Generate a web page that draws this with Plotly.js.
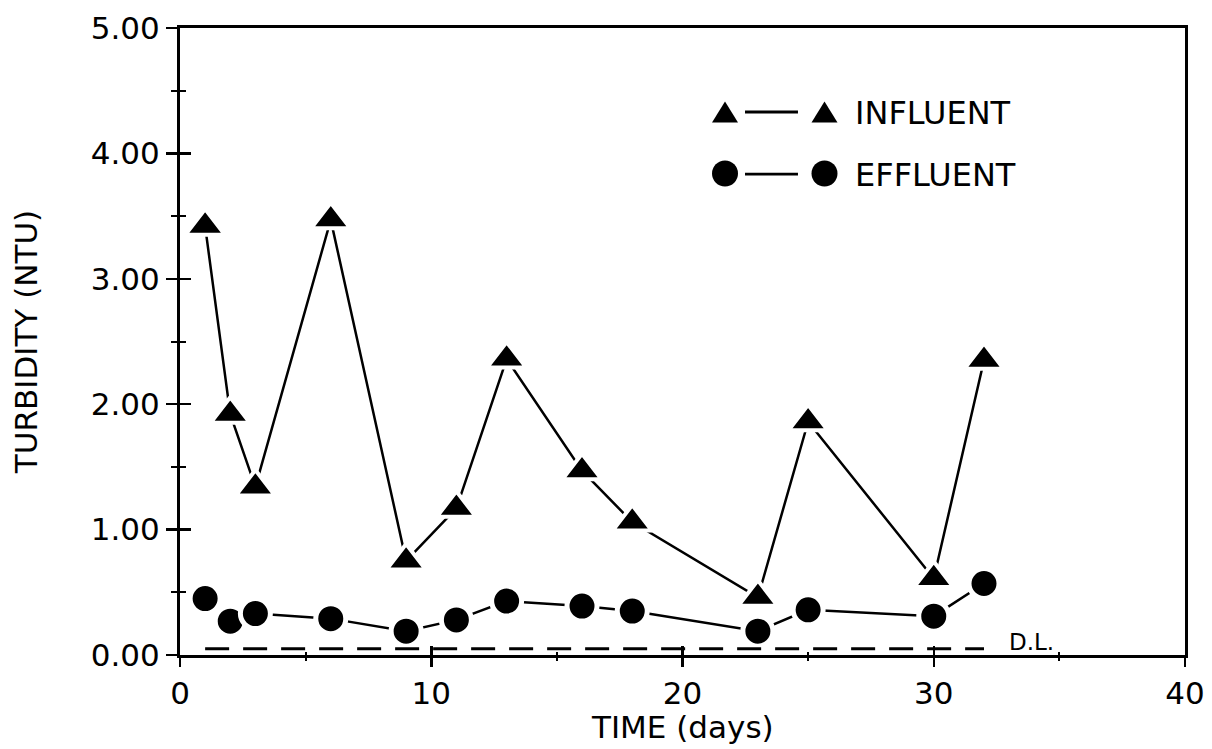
<!DOCTYPE html>
<html>
<head>
<meta charset="utf-8">
<script src="https://cdn.plot.ly/plotly-3.0.1.min.js"></script>
<style>html,body{margin:0;padding:0;background:#fff;}#chart{width:1212px;height:749px;}</style>
</head>
<body>
<div id="chart"></div>
<script>
// Data
const influentDays = [1, 2, 3, 6, 9, 11, 13, 16, 18, 23, 25, 30, 32];
const influentNTU  = [3.42, 1.92, 1.34, 3.47, 0.75, 1.17, 2.36, 1.47, 1.06, 0.46, 1.86, 0.61, 2.35];
const effluentDays = [1, 2, 3, 6, 9, 11, 13, 16, 18, 23, 25, 30, 32];
const effluentNTU  = [0.45, 0.27, 0.33, 0.29, 0.19, 0.28, 0.43, 0.39, 0.35, 0.19, 0.36, 0.31, 0.57];
const detectionLimitDays = [1, 32];
const detectionLimitNTU  = [0.05, 0.05];
const xTickVals = [0, 10, 20, 30, 40];
const xTickText = ['0', '10', '20', '30', '40'];
const yTickVals = [0, 1, 2, 3, 4, 5];
const yTickText = ['0.00', '1.00', '2.00', '3.00', '4.00', '5.00'];
const seriesNames = ['INFLUENT', 'EFFLUENT'];
const xTitle = 'TIME (days)';
const yTitle = 'TURBIDITY (NTU)';

const FONT = 'DejaVu Sans';
const traces = [
  {
    x: detectionLimitDays, y: detectionLimitNTU, mode: 'lines', xaxis: 'x2', yaxis: 'y2',
    line: {color: '#000', width: 3, dash: '24px,14px'}, showlegend: false, hoverinfo: 'skip'
  },
  {
    name: seriesNames[0], x: influentDays, y: influentNTU, mode: 'lines+markers',
    line: {color: '#000', width: 2.5},
    marker: {symbol: 'triangle-up', size: 34, color: '#000', line: {color: '#fff', width: 4}},
    showlegend: false
  },
  {
    name: seriesNames[1], x: effluentDays, y: effluentNTU, mode: 'lines+markers',
    line: {color: '#000', width: 2.5},
    marker: {symbol: 'circle', size: 30, color: '#000', line: {color: '#fff', width: 5}},
    showlegend: false
  }
];

const commonAxis = {
  showgrid: false, zeroline: false, linecolor: '#000', linewidth: 3,
  tickcolor: '#000', tickwidth: 2.5, tickfont: {family: FONT, size: 31, color: '#000'}
};

const layout = {
  width: 1212, height: 749,
  margin: {l: 180, r: 27, t: 28, b: 94},
  paper_bgcolor: '#fff', plot_bgcolor: '#fff',
  showlegend: false,
  xaxis: Object.assign({}, commonAxis, {
    range: [0, 40], tickmode: 'array', tickvals: xTickVals, ticktext: xTickText,
    ticks: 'outside', ticklen: 9, mirror: true,
    minor: {dtick: 5, ticks: 'outside', ticklen: 3, tickcolor: '#000', tickwidth: 2}
  }),
  yaxis: Object.assign({}, commonAxis, {
    range: [0, 5], tickmode: 'array', tickvals: yTickVals, ticktext: yTickText,
    ticks: 'outside', ticklen: 11, mirror: true,
    minor: {dtick: 0.5, ticks: 'outside', ticklen: 6, tickcolor: '#000', tickwidth: 2},
    title: {text: yTitle, font: {family: FONT, size: 31, color: '#000'}, standoff: 44}
  }),
  xaxis2: {
    overlaying: 'x', anchor: 'y2', range: [0, 40], showgrid: false, zeroline: false,
    showline: false, showticklabels: false, tickmode: 'array', tickvals: xTickVals,
    ticks: 'inside', ticklen: 9, tickcolor: '#000', tickwidth: 2.5,
    minor: {dtick: 5, ticks: 'inside', ticklen: 3, tickcolor: '#000', tickwidth: 2}
  },
  yaxis2: {
    overlaying: 'y', anchor: 'x2', range: [0, 5], showgrid: false, zeroline: false,
    showline: false, showticklabels: false, tickmode: 'array', tickvals: yTickVals,
    ticks: 'inside', ticklen: 11, tickcolor: '#000', tickwidth: 2.5,
    minor: {dtick: 0.5, ticks: 'inside', ticklen: 6, tickcolor: '#000', tickwidth: 2}
  },
  shapes: [
    // legend: triangle - line - triangle
    {type: 'path', xref: 'paper', yref: 'paper', xsizemode: 'pixel', ysizemode: 'pixel',
     xanchor: 0.5423, yanchor: 0.8652, path: 'M-13,-10 L13,-10 L0,11 Z',
     fillcolor: '#000', line: {width: 0}},
    {type: 'line', xref: 'paper', yref: 'paper', x0: 0.5622, x1: 0.6149, y0: 0.866, y1: 0.866,
     line: {color: '#000', width: 2.8}},
    {type: 'path', xref: 'paper', yref: 'paper', xsizemode: 'pixel', ysizemode: 'pixel',
     xanchor: 0.6413, yanchor: 0.8652, path: 'M-13,-10 L13,-10 L0,11 Z',
     fillcolor: '#000', line: {width: 0}},
    // legend: circle - line - circle
    {type: 'circle', xref: 'paper', yref: 'paper', xsizemode: 'pixel', ysizemode: 'pixel',
     xanchor: 0.5423, yanchor: 0.768, x0: -13, x1: 13, y0: -13, y1: 13,
     fillcolor: '#000', line: {width: 0}},
    {type: 'line', xref: 'paper', yref: 'paper', x0: 0.5622, x1: 0.6149, y0: 0.767, y1: 0.767,
     line: {color: '#000', width: 2.8}},
    {type: 'circle', xref: 'paper', yref: 'paper', xsizemode: 'pixel', ysizemode: 'pixel',
     xanchor: 0.6413, yanchor: 0.768, x0: -13, x1: 13, y0: -13, y1: 13,
     fillcolor: '#000', line: {width: 0}}
  ],
  annotations: [
    {text: xTitle, xref: 'paper', yref: 'paper', x: 0.5, y: -0.1148,
     xanchor: 'center', yanchor: 'middle', showarrow: false,
     font: {family: FONT, size: 31, color: '#000'}},
    {text: seriesNames[0], xref: 'paper', yref: 'paper', x: 0.6697, y: 0.8652,
     xanchor: 'left', yanchor: 'middle', showarrow: false,
     font: {family: FONT, size: 32, color: '#000'}},
    {text: seriesNames[1], xref: 'paper', yref: 'paper', x: 0.6697, y: 0.7663,
     xanchor: 'left', yanchor: 'middle', showarrow: false,
     font: {family: FONT, size: 32, color: '#000'}},
    {text: 'D.L.', xref: 'x', yref: 'y', x: 32.9, y: 0.1,
     xanchor: 'left', yanchor: 'middle', showarrow: false,
     font: {family: FONT, size: 23, color: '#000'}}
  ]
};

Plotly.newPlot('chart', traces, layout, {displayModeBar: false, staticPlot: true});
</script>
</body>
</html>
